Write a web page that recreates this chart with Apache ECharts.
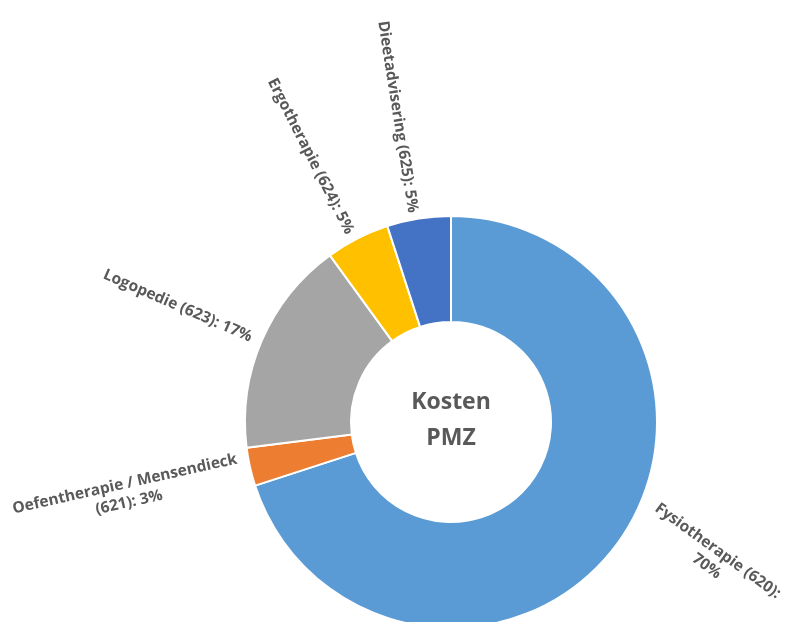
<!DOCTYPE html>
<html>
<head>
<meta charset="utf-8">
<script src="https://cdn.jsdelivr.net/npm/echarts@6/dist/echarts.min.js"></script>
<style>
  html, body { margin: 0; padding: 0; background: #fff; }
  #chartdiv { width: 790px; height: 622px; }
</style>
</head>
<body>
<div id="chartdiv"></div>
<script>
// categories, clockwise from 12 o'clock
var categories = ['Fysiotherapie (620)', 'Oefentherapie / Mensendieck (621)', 'Logopedie (623)', 'Ergotherapie (624)', 'Dieetadvisering (625)'];
var shares = [70, 3, 17, 5, 5];
var colors = ['#5B9BD5', '#ED7D31', '#A5A5A5', '#FFC000', '#4472C4'];

var pieData = categories.map(function(c, i) {
    var item = { name: c, value: shares[i], itemStyle: { color: colors[i] } };
    if (i === 0) {
        // Fysio label sits higher than the radial line in the original
        item.label = { offset: [0, -40] };
    }
    return item;
});

function labelText(p) {
    if (p.dataIndex === 0) {
        // Fysio: percentage on second line
        return '{a|' + p.name + ':}\n{a|' + p.value + '%}';
    }
    if (p.dataIndex === 1) {
        var parts = p.name.split(' (');
        return '{a|' + parts[0] + '}\n{a|(' + parts[1] + ': ' + p.value + '%}';
    }
    return '{a|' + p.name + ': ' + p.value + '%}';
}

var chartDom = document.getElementById('chartdiv');
var plot = echarts.init(chartDom);
var options = {
    animation: false,
    title: {
        text: 'Kosten\nPMZ',
        left: 451,
        top: 384,
        padding: 0,
        textAlign: 'center',
        textStyle: {
            fontFamily: 'Open Sans',
            fontSize: 23,
            fontWeight: 'bold',
            color: '#595959',
            lineHeight: 36
        }
    },
    series: [
        {
            type: 'pie',
            center: [451, 422],
            radius: [100, 206],
            startAngle: 90,
            clockwise: true,
            avoidLabelOverlap: false,
            itemStyle: {
                borderColor: '#fff',
                borderWidth: 2
            },
            label: {
                show: true,
                position: 'outside',
                rotate: 'radial',
                formatter: labelText,
                rich: {
                    a: {
                        align: 'center',
                        fontFamily: 'Open Sans',
                        fontSize: 15.5,
                        fontWeight: 'bold',
                        color: '#595959',
                        lineHeight: 19
                    }
                }
            },
            labelLine: {
                show: false,
                length: 6,
                length2: 0
            },
            data: pieData
        }
    ]
};
plot.setOption(options);
</script>
</body>
</html>
